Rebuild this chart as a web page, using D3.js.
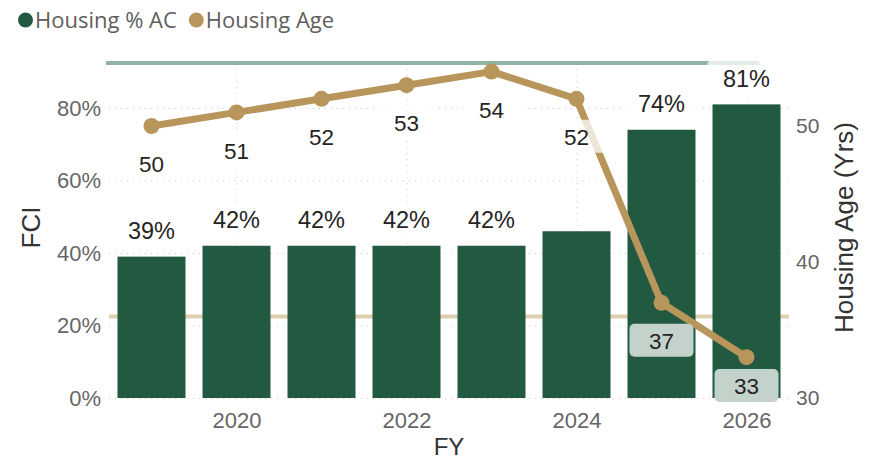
<!DOCTYPE html>
<html>
<head>
<meta charset="utf-8">
<script src="https://cdn.jsdelivr.net/npm/d3@7"></script>
<style>
  body { margin: 0; background: #fff; }
  svg { display: block; }
</style>
</head>
<body>
<script>
const width = 876;
const height = 461;

// data
const years = [2019, 2020, 2021, 2022, 2023, 2024, 2025, 2026];
const housingAC = [39, 42, 42, 42, 42, 46, 74, 81];
const housingAge = [50, 51, 52, 53, 54, 52, 37, 33];
const hiddenBarLabels = [2024];
const fciTicks = [0, 20, 40, 60, 80];
const ageTicks = [30, 40, 50];
const yearTicks = [2020, 2022, 2024, 2026];
const fciRefLine = 92.4;
const ageRefLine = 36;

const green = "#215a40";
const tan = "#b8955a";
const font = "'Liberation Sans', Arial, sans-serif";

const svg = d3.select("body").append("svg")
  .attr("width", width)
  .attr("height", height);

const x = d3.scaleLinear().domain([2018.5, 2026.5]).range([109, 789]);
const y = d3.scaleLinear().domain([0, 80]).range([398, 108]);
const y2 = d3.scaleLinear().domain([30, 50]).range([398, 126]);
const barW = (x(1) - x(0)) * 0.8;

// gridlines (dotted)
svg.append("g")
  .selectAll("line")
  .data(fciTicks)
  .join("line")
  .attr("x1", x.range()[0])
  .attr("x2", x.range()[1])
  .attr("y1", d => y(d) + 0.5)
  .attr("y2", d => y(d) + 0.5)
  .attr("stroke", "#c8c8c8")
  .attr("stroke-dasharray", "1,5");

svg.append("g")
  .selectAll("line")
  .data(yearTicks)
  .join("line")
  .attr("x1", d => x(d) + 0.5)
  .attr("x2", d => x(d) + 0.5)
  .attr("y1", y(fciRefLine))
  .attr("y2", y(0))
  .attr("stroke", "#c8c8c8")
  .attr("stroke-dasharray", "1,5");

// reference lines
svg.append("line")
  .attr("x1", x.range()[0] - 3)
  .attr("x2", x(2026.15))
  .attr("y1", y(fciRefLine))
  .attr("y2", y(fciRefLine))
  .attr("stroke", "#8fb4a4")
  .attr("stroke-width", 4);

svg.append("line")
  .attr("x1", x.range()[0])
  .attr("x2", x.range()[1])
  .attr("y1", y2(ageRefLine))
  .attr("y2", y2(ageRefLine))
  .attr("stroke", "#dfcfae")
  .attr("stroke-width", 4);

// bars
svg.append("g")
  .selectAll("rect")
  .data(years)
  .join("rect")
  .attr("x", d => x(d) - barW / 2)
  .attr("width", barW)
  .attr("y", (d, i) => y(housingAC[i]))
  .attr("height", (d, i) => y(0) - y(housingAC[i]))
  .attr("fill", green);

// line
const pts = years.map((d, i) => [x(d), y2(housingAge[i])]);
svg.append("path")
  .attr("d", d3.line()(pts))
  .attr("fill", "none")
  .attr("stroke", tan)
  .attr("stroke-width", 7)
  .attr("stroke-linejoin", "round");

svg.append("g")
  .selectAll("circle")
  .data(pts)
  .join("circle")
  .attr("cx", d => d[0])
  .attr("cy", d => d[1])
  .attr("r", 8)
  .attr("fill", tan);

// bar labels
const barLabels = svg.append("g");
years.forEach((yr, i) => {
  if (hiddenBarLabels.includes(yr)) return;
  const cx = x(yr);
  const cy = y(housingAC[i]) - 26;
  barLabels.append("rect")
    .attr("x", cx - 39).attr("y", cy - 18)
    .attr("width", 78).attr("height", 36)
    .attr("rx", 4)
    .attr("fill", "#fff").attr("fill-opacity", 0.75);
  barLabels.append("text")
    .attr("x", cx).attr("y", cy)
    .attr("dy", "0.36em")
    .attr("text-anchor", "middle")
    .style("font-family", font)
    .style("font-size", "23.5px")
    .attr("fill", "#252423")
    .text(housingAC[i] + "%");
});

// line labels
const lineLabels = svg.append("g");
years.forEach((yr, i) => {
  const cx = x(yr);
  const cy = Math.min(y2(housingAge[i]) + 38, 386);
  const inBar = cy - 16 > y(housingAC[i]);
  lineLabels.append("rect")
    .attr("x", cx - 32).attr("y", cy - 17)
    .attr("width", 64).attr("height", 33)
    .attr("rx", 5)
    .attr("fill", inBar ? "#c3d3cc" : "#fff")
    .attr("fill-opacity", inBar ? 1 : 0.75);
  lineLabels.append("text")
    .attr("x", cx).attr("y", cy)
    .attr("dy", "0.36em")
    .attr("text-anchor", "middle")
    .style("font-family", font)
    .style("font-size", "22.5px")
    .attr("fill", "#252423")
    .text(housingAge[i]);
});

// axes
const yAxis = svg.append("g")
  .attr("transform", "translate(101,0)")
  .call(d3.axisLeft(y).tickValues(fciTicks).tickSize(0).tickPadding(0).tickFormat(d => d + "%"));
yAxis.select(".domain").remove();
yAxis.selectAll("text")
  .style("font-family", font)
  .style("font-size", "22px")
  .attr("fill", "#666");

const y2Axis = svg.append("g")
  .attr("transform", "translate(796,0)")
  .call(d3.axisRight(y2).tickValues(ageTicks).tickSize(0).tickPadding(0));
y2Axis.select(".domain").remove();
y2Axis.selectAll("text")
  .style("font-family", font)
  .style("font-size", "21px")
  .attr("fill", "#666");

const xAxis = svg.append("g")
  .attr("transform", "translate(0,398)")
  .call(d3.axisBottom(x).tickValues(yearTicks).tickSize(0).tickPadding(14).tickFormat(d3.format("d")));
xAxis.select(".domain").remove();
xAxis.selectAll("text")
  .style("font-family", font)
  .style("font-size", "22px")
  .attr("fill", "#666");

// baseline dotted
svg.append("line")
  .attr("x1", x.range()[0]).attr("x2", x.range()[1])
  .attr("y1", y(0) + 0.5).attr("y2", y(0) + 0.5)
  .attr("stroke", "#c8c8c8")
  .attr("stroke-dasharray", "1,5");

// axis titles
svg.append("text")
  .attr("transform", "translate(40,227.5) rotate(-90)")
  .attr("text-anchor", "middle")
  .style("font-family", font)
  .style("font-size", "26px")
  .attr("fill", "#333")
  .text("FCI");

svg.append("text")
  .attr("transform", "translate(853,227.5) rotate(-90)")
  .attr("text-anchor", "middle")
  .style("font-family", font)
  .style("font-size", "26px")
  .attr("fill", "#333")
  .text("Housing Age (Yrs)");

svg.append("text")
  .attr("x", 449)
  .attr("y", 455)
  .attr("text-anchor", "middle")
  .style("font-family", font)
  .style("font-size", "24px")
  .attr("fill", "#333")
  .text("FY");

// legend
const legendItems = [
  { name: "Housing % AC", color: green },
  { name: "Housing Age", color: tan }
];
const legend = svg.append("g").attr("transform", "translate(0,20)");
let lx = 18;
legendItems.forEach(item => {
  legend.append("circle")
    .attr("cx", lx + 7.5).attr("cy", 0).attr("r", 7.5)
    .attr("fill", item.color);
  const t = legend.append("text")
    .attr("x", lx + 17).attr("y", 0)
    .attr("dy", "0.35em")
    .style("font-family", "'Open Sans', 'Noto Sans', sans-serif")
    .style("font-size", "22px")
    .attr("fill", "#605e5c")
    .text(item.name);
  lx += 17 + t.node().getComputedTextLength() + 12;
});
</script>
</body>
</html>
